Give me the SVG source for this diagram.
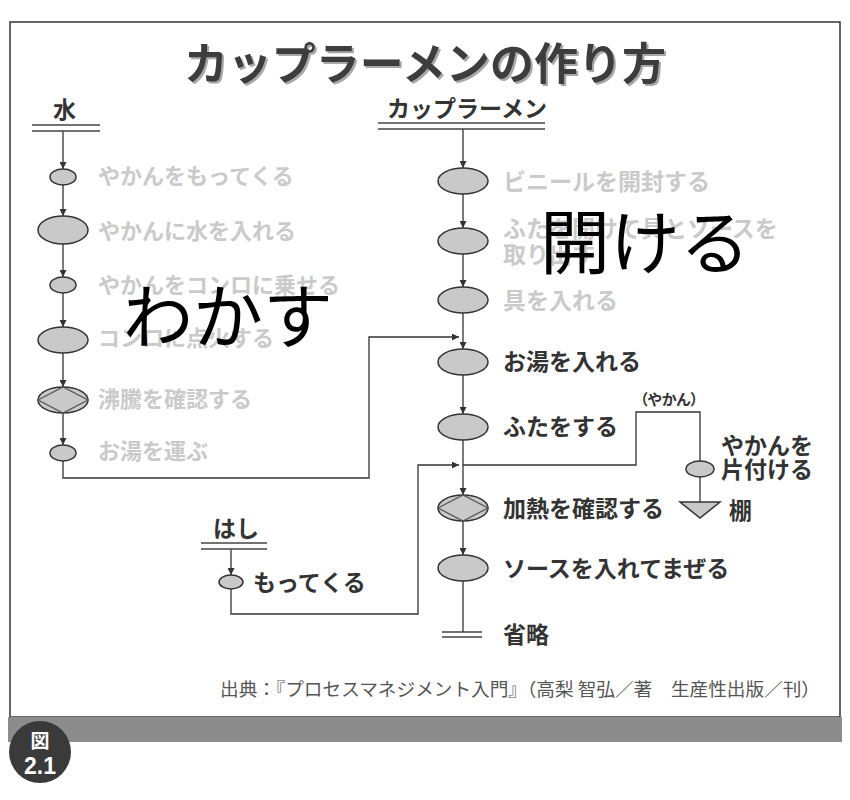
<svg xmlns="http://www.w3.org/2000/svg" width="850" height="800" viewBox="0 0 850 800">
<style>
.jp{font-family:"Noto Sans CJK JP","Noto Sans",sans-serif}
.lg{font-family:"Noto Sans CJK JP",sans-serif;font-weight:bold;font-size:22px;fill:#cacaca}
.lg2{font-family:"Noto Sans CJK JP",sans-serif;font-weight:bold;font-size:23px;fill:#cacaca}
.dk{font-family:"Noto Sans CJK JP",sans-serif;font-weight:bold;font-size:23px;fill:#333}
.big{font-family:"Noto Sans CJK JP",sans-serif;font-weight:normal;font-size:70px;fill:#000}
.node{fill:#c9c9c9;stroke:#333;stroke-width:1.5}
.dia{fill:none;stroke:#555;stroke-width:1.3}
.ln{fill:none;stroke:#333;stroke-width:1.3}
.ar{fill:none;stroke:#333;stroke-width:1.3;marker-end:url(#ah)}
.dbl{stroke:#444;stroke-width:1.5}
</style>
<defs>
<marker id="ah" viewBox="0 0 10 10" refX="10" refY="5" markerWidth="7" markerHeight="7" markerUnits="userSpaceOnUse" orient="auto">
<path d="M0,0 L10,5 L0,10 z" fill="#333"/>
</marker>
<filter id="shadow" x="-5%" y="-20%" width="110%" height="150%">
<feDropShadow dx="2" dy="2" stdDeviation="0.6" flood-color="#a8a8a8" flood-opacity="1"/>
</filter>
</defs>
<rect x="0" y="0" width="850" height="800" fill="#fff"/>
<rect x="10" y="22" width="830" height="695" fill="#fff" stroke="#333" stroke-width="1.5"/>
<rect x="8" y="717" width="834" height="25" fill="#8c8c8c"/>
<g id="title">
<text x="425" y="80" text-anchor="middle" class="jp" font-weight="bold" font-size="44" fill="#3d3d3d" filter="url(#shadow)">カップラーメンの作り方</text>
</g>
<g id="connectors">
<line class="ar" x1="63" y1="131" x2="63" y2="169"/>
<line class="ar" x1="63" y1="185" x2="63" y2="216"/>
<line class="ar" x1="63" y1="244" x2="63" y2="277"/>
<line class="ar" x1="63" y1="293" x2="63" y2="327"/>
<line class="ar" x1="63" y1="353" x2="63" y2="387"/>
<line class="ar" x1="63" y1="413" x2="63" y2="445"/>
<polyline class="ar" points="63,461 63,478 369,478 369,337 459,337"/>
<line class="ar" x1="463" y1="129" x2="463" y2="168"/>
<line class="ar" x1="463" y1="194" x2="463" y2="228"/>
<line class="ar" x1="463" y1="254" x2="463" y2="287"/>
<line class="ar" x1="463" y1="313" x2="463" y2="349"/>
<line class="ar" x1="463" y1="375" x2="463" y2="414"/>
<line class="ar" x1="463" y1="440" x2="463" y2="495"/>
<line class="ar" x1="463" y1="521" x2="463" y2="555"/>
<line class="ln" x1="463" y1="581" x2="463" y2="632"/>
<polyline class="ln" points="463,465 636,465 636,412 700,412 700,461"/>
<line class="ln" x1="700" y1="477" x2="700" y2="502"/>
<line class="ar" x1="231" y1="549" x2="231" y2="575"/>
<polyline class="ar" points="231,589 231,614 418,614 418,465 459,465"/>
</g>
<g id="water-head">
<text x="53" y="118" class="dk" font-size="22">水</text>
<line class="dbl" x1="32" y1="125" x2="100" y2="125"/>
<line class="dbl" x1="32" y1="131" x2="100" y2="131"/>
</g>
<g id="w1"><ellipse class="node" cx="63" cy="177" rx="13" ry="8"/><text x="98" y="184" class="lg">やかんをもってくる</text></g>
<g id="w2"><ellipse class="node" cx="63" cy="230" rx="25" ry="14"/><text x="98" y="239" class="lg">やかんに水を入れる</text></g>
<g id="w3"><ellipse class="node" cx="63" cy="285" rx="13" ry="8"/><text x="98" y="293" class="lg">やかんをコンロに乗せる</text></g>
<g id="w4"><ellipse class="node" cx="63" cy="340" rx="25" ry="13"/><text x="98" y="346" class="lg">コンロに点火する</text></g>
<g id="w5"><ellipse class="node" cx="63" cy="400" rx="25" ry="13"/><polygon class="dia" points="38,400 63,387 88,400 63,413"/><text x="98" y="407" class="lg">沸騰を確認する</text></g>
<g id="w6"><ellipse class="node" cx="63" cy="453" rx="13" ry="8"/><text x="98" y="459" class="lg">お湯を運ぶ</text></g>
<g id="cup-head">
<text x="387" y="117" class="dk" font-size="22">カップラーメン</text>
<line class="dbl" x1="378" y1="123" x2="545" y2="123"/>
<line class="dbl" x1="378" y1="129" x2="545" y2="129"/>
</g>
<g id="c1"><ellipse class="node" cx="463" cy="181" rx="25" ry="13"/><text x="503" y="190" class="lg2">ビニールを開封する</text></g>
<g id="c2"><ellipse class="node" cx="463" cy="241" rx="25" ry="13"/><text x="503" y="237" class="lg2">ふたを開けて具とソースを</text><text x="503" y="263" class="lg2">取り出す</text></g>
<g id="c3"><ellipse class="node" cx="463" cy="300" rx="25" ry="13"/><text x="503" y="309" class="lg2">具を入れる</text></g>
<g id="c4"><ellipse class="node" cx="463" cy="362" rx="25" ry="13"/><text x="503" y="370" class="dk">お湯を入れる</text></g>
<g id="c5"><ellipse class="node" cx="463" cy="427" rx="25" ry="13"/><text x="503" y="435" class="dk">ふたをする</text></g>
<g id="c6"><ellipse class="node" cx="463" cy="508" rx="25" ry="13"/><polygon class="dia" points="438,508 463,495 488,508 463,521"/><text x="503" y="517" class="dk">加熱を確認する</text></g>
<g id="c7"><ellipse class="node" cx="463" cy="568" rx="25" ry="13"/><text x="503" y="577" class="dk">ソースを入れてまぜる</text></g>
<g id="c-end">
<line class="dbl" x1="442" y1="632" x2="482" y2="632"/>
<line class="dbl" x1="442" y1="637" x2="482" y2="637"/>
<text x="503" y="643" class="dk">省略</text>
</g>
<g id="kettle">
<text x="640" y="405" class="jp" font-weight="bold" font-size="15" fill="#333" style="font-feature-settings:'palt'">（やかん）</text>
<ellipse class="node" cx="700" cy="469" rx="14" ry="8"/>
<text x="721" y="454" class="dk">やかんを</text>
<text x="721" y="478" class="dk">片付ける</text>
</g>
<g id="shelf">
<polygon points="680,502 720,502 700,518" fill="#c9c9c9" stroke="#333" stroke-width="1.5"/>
<text x="729" y="519" class="dk">棚</text>
</g>
<g id="hashi-head">
<text x="213" y="537" class="dk" font-size="22">はし</text>
<line class="dbl" x1="201" y1="543" x2="267" y2="543"/>
<line class="dbl" x1="201" y1="549" x2="267" y2="549"/>
</g>
<g id="h1"><ellipse class="node" cx="231" cy="582" rx="12" ry="7"/><text x="253" y="591" class="dk" font-size="22">もってくる</text></g>
<text x="123" y="343" class="big">わかす</text>
<text x="540" y="269" class="big">開ける</text>
<text x="820" y="696" text-anchor="end" class="jp" font-size="18" fill="#555" textLength="600" lengthAdjust="spacingAndGlyphs">出典：『プロセスマネジメント入門』（高梨 智弘／著　生産性出版／刊）</text>
<g id="badge">
<circle cx="40" cy="752" r="31" fill="#3a3a3a"/>
<text x="40" y="748" text-anchor="middle" class="jp" font-weight="bold" font-size="19" fill="#fff">図</text>
<text x="40" y="774" text-anchor="middle" font-family="Liberation Sans, Arial, sans-serif" font-weight="bold" font-size="23" fill="#fff">2.1</text>
</g>
</svg>
